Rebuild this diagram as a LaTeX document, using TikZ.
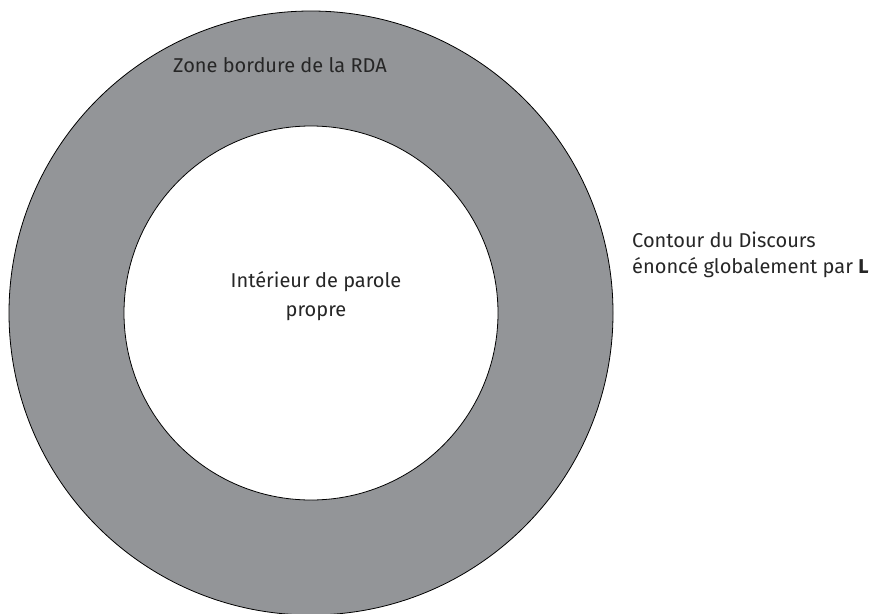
\documentclass[tikz,border=0pt]{standalone}
\usepackage{fontspec}
\setmainfont{Fira Sans}
\usetikzlibrary{positioning}
\definecolor{ringgray}{RGB}{147,149,152}
\def\outerdiam{604pt}
\def\innerdiam{374pt}

\begin{document}
\begin{tikzpicture}[
            x=1pt, y=-1pt,
            ring/.style={%
                circle, draw=black, line width=0.8pt,%
                inner sep=0pt, outer sep=0pt%
            },
            label/.style={%
                font=\fontsize{20}{26}\selectfont, text=black!85,%
                inner sep=0pt%
            }
        ]
        \useasboundingbox (0,0) rectangle (869,613);

        % Define nodes
        \node (outer) [ring, fill=ringgray, minimum size=\outerdiam] at (311,313) {};
        \node (inner) [ring, fill=white, minimum size=\innerdiam] at (outer.center) {};

        \node (zone) [label, anchor=base] at (280,72) {Zone bordure de la RDA};
        \node (interior) [
                label, align=center,
                font=\fontsize{20}{29}\selectfont
            ] at (316,296) {%
            Intérieur de parole\\
            propre
        };
        \node (contour) [label, align=left, anchor=west] at (632,255) {%
            Contour du Discours\\
            énoncé globalement par \textbf{L}
        };

\end{tikzpicture}
\end{document}
